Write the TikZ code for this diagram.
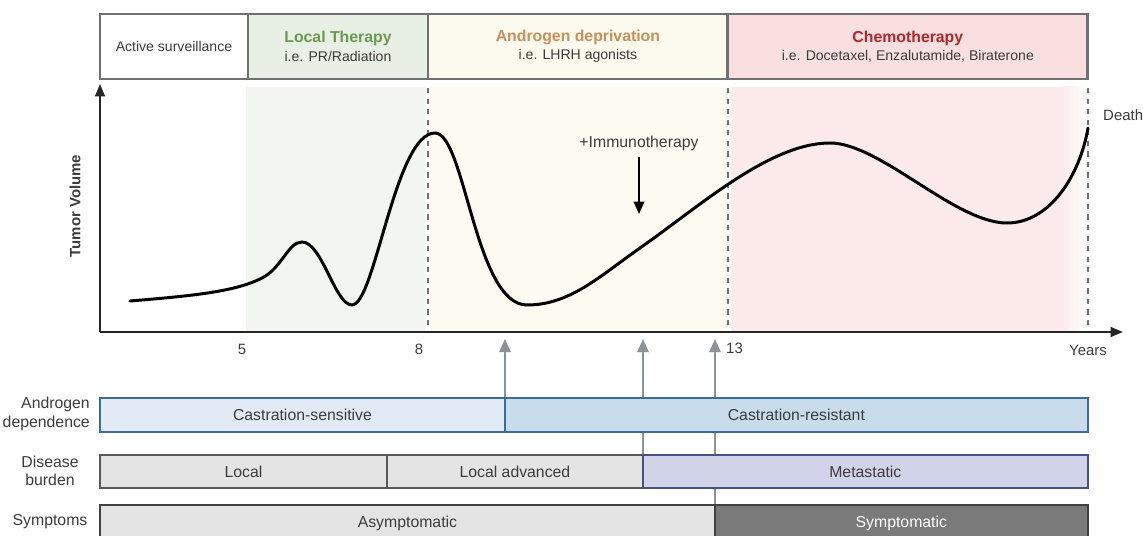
\documentclass[tikz,border=0pt]{standalone}
\usepackage{fontspec}
\setmainfont{Liberation Sans}
\usetikzlibrary{arrows.meta,backgrounds}
\definecolor{boxline}{HTML}{707070}
\definecolor{txt}{HTML}{3C3C3C}
\definecolor{localgreen}{HTML}{6A9A50}
\definecolor{localbg}{HTML}{E8EFE5}
\definecolor{localarea}{HTML}{F3F6F0}
\definecolor{adttan}{HTML}{C8915A}
\definecolor{adtbg}{HTML}{FCF9EE}
\definecolor{adtarea}{HTML}{FEFBF3}
\definecolor{chemored}{HTML}{B02828}
\definecolor{chemobg}{HTML}{F9DFE0}
\definecolor{chemoarea}{HTML}{FDEBEB}
\definecolor{sensbg}{HTML}{E2EBF5}
\definecolor{resbg}{HTML}{C9DCEC}
\definecolor{blueline}{HTML}{3D6A9A}
\definecolor{burdenbg}{HTML}{E4E4E4}
\definecolor{metabg}{HTML}{D1D4E8}
\definecolor{metaline}{HTML}{4A5080}
\definecolor{symbg}{HTML}{7A7A7A}
\definecolor{arrowgrey}{HTML}{8C9296}

\begin{document}
\begin{tikzpicture}[x=0.02cm, y=-0.02cm,
        every node/.style={text=txt, font=\fontsize{8}{10}\selectfont},
        phase/.style={draw=boxline, line width=1.6pt, outer sep=0pt, minimum height=1.3cm, anchor=west, align=center},
        bar/.style={draw, line width=0.8pt, outer sep=0pt, minimum height=0.68cm, anchor=west, font=\fontsize{9}{11}\selectfont},
        sidelabel/.style={font=\fontsize{9}{10.5}\selectfont, align=center},
        axis/.style={line width=1.1pt, draw=black!85, -{Triangle[length=7pt,width=5.5pt]}},
        phaseline/.style={dashed, draw=boxline, line width=0.8pt},
        uparrow/.style={line width=1pt, draw=arrowgrey, -{Triangle[length=7.5pt,width=6.5pt]}}]
                \useasboundingbox (0,0) rectangle (1143,536);
                % treatment phases
                \node[phase, minimum width=2.96cm] (watch) at (100,46.5) {Active surveillance};
                \node[phase, fill=localbg, minimum width=3.6cm] (local) at (watch.east)
                    {{\fontsize{9}{11}\selectfont\bfseries\color{localgreen}Local Therapy}\\[0.5pt] i.e. PR/Radiation};
                \node[phase, fill=adtbg, minimum width=6cm] (adt) at (local.east)
                    {{\fontsize{9}{11}\selectfont\bfseries\color{adttan}Androgen deprivation}\\[0.5pt] i.e. LHRH agonists};
                \node[phase, fill=chemobg, minimum width=7.2cm] (chemo) at (adt.east)
                    {{\fontsize{9}{11}\selectfont\bfseries\color{chemored}Chemotherapy}\\[0.5pt] i.e. Docetaxel, Enzalutamide, Biraterone};
                % shaded periods
                \fill[localarea] (246,87) rectangle (425,331);
                \fill[adtarea] (430,87) rectangle (727,331);
                \fill[chemoarea] (731,87) rectangle (1064,331);
                \shade[left color=chemoarea, right color=white] (1063,87) rectangle (1086,331);
                \foreach \x in {428,728,1088}
                    \draw[phaseline] (\x,88) -- (\x,330);
                % axes
                \coordinate (o) at (100,332);
                \coordinate (ytop) at (100,84);
                \coordinate (xend) at (1123,332);
                \draw[axis] (o) -- (ytop);
                \draw[axis] (o) -- (xend);
                \node[rotate=90, font=\fontsize{8.5}{10}\selectfont\bfseries] (ylabel) at (75,206) {Tumor Volume};
                \node[font=\fontsize{8.5}{10}\selectfont] (t5) at (242,349) {5};
                \node[font=\fontsize{8.5}{10}\selectfont] (t8) at (419,349) {8};
                \node[font=\fontsize{8.5}{10}\selectfont, anchor=west] (t13) at (720,348) {13};
                \node[font=\fontsize{8.5}{10}\selectfont] (years) at (1088,350) {Years};
                \node[font=\fontsize{8.5}{10}\selectfont, anchor=west] (death) at (1097,115) {Death};
                % tumor volume
                \draw[line width=1.7pt, line cap=round]
                    (130,301) .. controls (190,296) and (235,292) .. (262,278)
                    .. controls (282,268) and (288,242) .. (302,242)
                    .. controls (322,242) and (335,305) .. (352,305)
                    .. controls (375,305) and (395,133) .. (435,133)
                    .. controls (465,133) and (475,305) .. (527,305)
                    .. controls (570,305) and (600,276) .. (640,248)
                    .. controls (700,206) and (770,143) .. (830,143)
                    .. controls (880,143) and (955,223) .. (1007,223)
                    .. controls (1050,223) and (1080,175) .. (1088,128);
                \node[font=\fontsize{9}{11}\selectfont] (immuno) at (639,143) {+Immunotherapy};
                \coordinate (immunotip) at (639,214);
                \draw[line width=1pt, -{Triangle[length=7pt,width=6pt]}] (immuno.south) -- (immunotip);
                % disease state bars
                \node[sidelabel, align=right, anchor=east] (depend) at (96,414) {Androgen\\dependence};
                \node[bar, draw=blueline, fill=sensbg, minimum width=8.1cm] (sens) at (100,415) {Castration-sensitive};
                \node[bar, draw=blueline, fill=resbg, minimum width=11.66cm] (res) at (sens.east) {Castration-resistant};
                \node[sidelabel] (burden) at (50,471) {Disease\\burden};
                \node[bar, draw=black!65, fill=burdenbg, minimum width=5.74cm, minimum height=0.66cm] (loc) at (100,471.5) {Local};
                \node[bar, draw=black!65, fill=burdenbg, minimum width=5.12cm, minimum height=0.66cm] (adv) at (loc.east) {Local advanced};
                \node[bar, draw=metaline, fill=metabg, minimum width=8.9cm, minimum height=0.66cm] (meta) at (adv.east) {Metastatic};
                \node[sidelabel] (symptoms) at (50,522) {Symptoms};
                \node[bar, draw=black!75, line width=1.2pt, fill=burdenbg, minimum width=12.3cm, minimum height=0.72cm] (asym) at (100,523) {Asymptomatic};
                \node[bar, draw=black!75, line width=1.2pt, fill=symbg, text=white, minimum width=7.46cm, minimum height=0.72cm] (sym) at (asym.east) {Symptomatic};
                % transitions
                \begin{scope}[on background layer]
                    \coordinate (up1) at (505,339);
                    \coordinate (up2) at (643,339);
                    \coordinate (up3) at (715,339);
                    \draw[uparrow] (sens.north east) -- (up1);
                    \draw[uparrow] (adv.north east) -- (up2);
                    \draw[uparrow] (sym.north west) -- (up3);
                \end{scope}
\end{tikzpicture}
\end{document}
